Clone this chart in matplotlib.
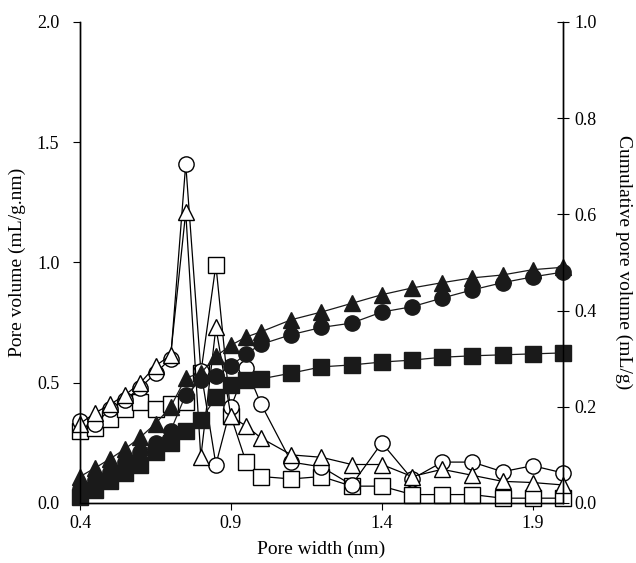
import matplotlib
matplotlib.use('Agg')
import matplotlib.pyplot as plt

plt.rcParams['font.family'] = ['Liberation Serif', 'DejaVu Serif']

# pore width (nm)
width = [0.40, 0.45, 0.50, 0.55, 0.60, 0.65, 0.70, 0.75, 0.80, 0.85, 0.90, 0.95,
         1.0, 1.1, 1.2, 1.3, 1.4, 1.5, 1.6, 1.7, 1.8, 1.9, 2.0]

# pore size distribution (left axis, mL/g.nm)
psd_square = [0.30, 0.31, 0.35, 0.39, 0.42, 0.39, 0.41, 0.42, 0.54, 0.99, 0.36, 0.17,
              0.11, 0.10, 0.11, 0.07, 0.07, 0.035, 0.035, 0.035, 0.02, 0.02, 0.02]
psd_circle = [0.34, 0.33, 0.39, 0.43, 0.48, 0.54, 0.60, 1.41, 0.55, 0.16, 0.40, 0.56,
              0.41, 0.17, 0.15, 0.075, 0.25, 0.10, 0.17, 0.17, 0.13, 0.155, 0.125]
psd_triangle = [0.33, 0.375, 0.41, 0.45, 0.50, 0.57, 0.615, 1.21, 0.19, 0.73, 0.36, 0.32,
                0.27, 0.20, 0.19, 0.16, 0.16, 0.11, 0.14, 0.115, 0.09, 0.085, 0.075]

# cumulative pore volume (right axis, mL/g)
cum_square = [0.013, 0.027, 0.045, 0.062, 0.08, 0.105, 0.125, 0.15, 0.172, 0.22, 0.245, 0.255,
              0.258, 0.27, 0.283, 0.287, 0.293, 0.297, 0.303, 0.306, 0.308, 0.31, 0.312]
cum_circle = [0.03, 0.048, 0.065, 0.085, 0.105, 0.125, 0.15, 0.225, 0.255, 0.265, 0.285, 0.31,
              0.33, 0.35, 0.365, 0.374, 0.397, 0.408, 0.426, 0.443, 0.458, 0.47, 0.48]
cum_triangle = [0.055, 0.073, 0.092, 0.113, 0.137, 0.165, 0.20, 0.26, 0.27, 0.305, 0.328, 0.345,
                0.356, 0.381, 0.397, 0.415, 0.433, 0.447, 0.458, 0.468, 0.474, 0.485, 0.49]

fig = plt.figure(figsize=(6.36, 5.63), dpi=100)
ax = fig.add_axes([0.126, 0.1066, 0.759, 0.8544])
ax2 = ax.twinx()

ms = 11
lw = 0.9
ax.plot(width, psd_square, marker='s', ms=ms, mfc='white', mec='black', color='black', lw=lw, mew=1.0, clip_on=False)
ax.plot(width, psd_circle, marker='o', ms=ms, mfc='white', mec='black', color='black', lw=lw, mew=1.0, clip_on=False)
ax.plot(width, psd_triangle, marker='^', ms=ms + 1, mfc='white', mec='black', color='black', lw=lw, mew=1.0, clip_on=False)

ax2.plot(width, cum_square, marker='s', ms=ms, color='#1a1a1a', lw=lw, clip_on=False)
ax2.plot(width, cum_circle, marker='o', ms=ms, color='#1a1a1a', lw=lw, clip_on=False)
ax2.plot(width, cum_triangle, marker='^', ms=ms + 1, color='#1a1a1a', lw=lw, clip_on=False)

ax.set_xlim(0.4, 2.0)
ax.set_ylim(0, 2.0)
ax2.set_ylim(0, 1.0)
ax.set_xticks([0.4, 0.9, 1.4, 1.9])
ax.set_yticks([0, 0.5, 1.0, 1.5, 2.0])
ax2.set_yticks([0, 0.2, 0.4, 0.6, 0.8, 1.0])
ax.set_xticklabels(['0.4', '0.9', '1.4', '1.9'])
ax.set_yticklabels(['0.0', '0.5', '1.0', '1.5', '2.0'])
ax2.set_yticklabels(['0.0', '0.2', '0.4', '0.6', '0.8', '1.0'])

for a in (ax, ax2):
    a.spines['top'].set_visible(False)
    for s in a.spines.values():
        s.set_linewidth(1.0)
ax.tick_params(axis='x', direction='out', length=5, labelsize=13, pad=4)
ax.tick_params(axis='y', direction='out', length=5, labelsize=13, pad=10)
ax2.tick_params(axis='y', direction='inout', length=9, labelsize=13)

ax.set_xlabel('Pore width (nm)', fontsize=14, labelpad=6)
ax.set_ylabel('Pore volume (mL/g.nm)', fontsize=14, labelpad=8)
ax2.set_ylabel('Cumulative pore volume (mL/g)', fontsize=14, rotation=270, labelpad=26)

fig.savefig('out.png', dpi=100)
